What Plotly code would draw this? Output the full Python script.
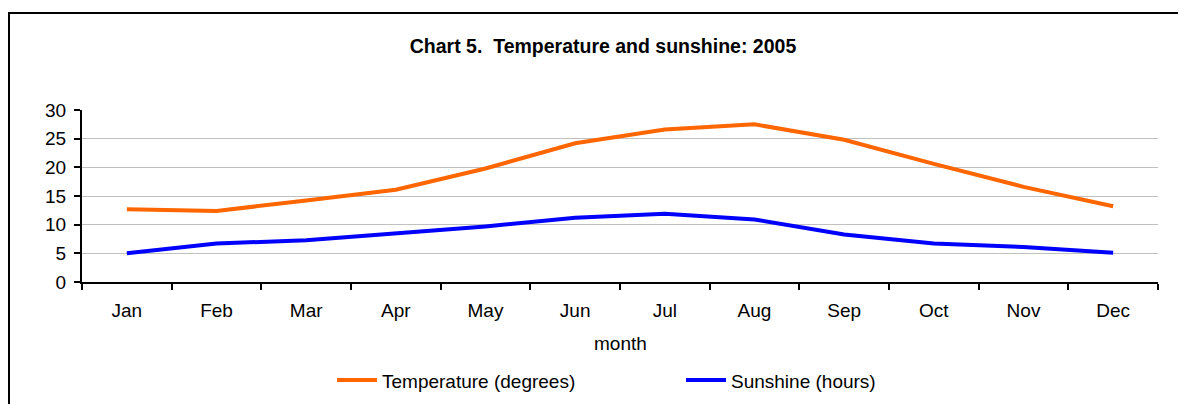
import plotly.graph_objects as go

months = ["Jan", "Feb", "Mar", "Apr", "May", "Jun", "Jul", "Aug", "Sep", "Oct", "Nov", "Dec"]
temperature = [12.7, 12.4, 14.2, 16.1, 19.8, 24.2, 26.6, 27.5, 24.8, 20.6, 16.6, 13.2]
sunshine = [5.0, 6.7, 7.3, 8.5, 9.7, 11.2, 11.9, 10.9, 8.3, 6.7, 6.1, 5.1]
y_ticks = [0, 5, 10, 15, 20, 25, 30]

# The page places the figure 8px in from the top-left corner (default body margin),
# so the layout below is expressed in page pixels minus that offset.
OFF = 8
W, H = 1186, 404
PL, PR, PT, PB = 82, 1158, 109.5, 282.3   # plot area in page pixels
L = PL - OFF
T = PT - OFF
pw = PR - PL
ph = PB - PT
R = W - L - pw
B = H - T - ph

def px_x(x):  # page px -> paper x
    return (x - PL) / pw

def px_y(y):  # page px -> paper y
    return (PB - y) / ph

FONT = "Liberation Sans, Arial, sans-serif"
FS = 19

fig = go.Figure()
fig.add_trace(go.Scatter(x=months, y=temperature, mode="lines", name="Temperature (degrees)",
                         line=dict(color="#FF6600", width=4)))
fig.add_trace(go.Scatter(x=months, y=sunshine, mode="lines", name="Sunshine (hours)",
                         line=dict(color="#0000FF", width=4)))

fig.update_layout(
    width=W, height=H,
    margin=dict(l=L, r=R, t=T, b=B, pad=0),
    paper_bgcolor="white", plot_bgcolor="white",
    font=dict(family=FONT, size=FS, color="black"),
    title=dict(text="<b>Chart 5.  Temperature and sunshine: 2005</b>",
               font=dict(family=FONT, size=19.5, color="black"),
               xref="container", yref="container",
               x=(603 - OFF) / W, xanchor="center", y=1 - (46 - OFF) / H, yanchor="middle"),
    xaxis=dict(type="category", range=[-0.5, 11.5], tickson="boundaries",
               ticks="outside", ticklen=6, tickwidth=2, tickcolor="black",
               showline=True, linecolor="black", linewidth=2,
               showgrid=False, zeroline=False, ticklabelstandoff=10,
               tickfont=dict(family=FONT, size=FS, color="black")),
    yaxis=dict(range=[0, 30], tickvals=y_ticks, ticks="outside", ticklen=6,
               tickwidth=2, tickcolor="black",
               showline=True, linecolor="black", linewidth=2,
               showgrid=True, gridcolor="#C0C0C0", gridwidth=1,
               zeroline=False, ticklabelstandoff=4,
               tickfont=dict(family=FONT, size=FS, color="black")),
    showlegend=True,
    legend=dict(orientation="h", x=px_x(332), xanchor="left",
                y=px_y(381), yanchor="middle",
                entrywidth=294, entrywidthmode="pixels",
                font=dict(family=FONT, size=FS, color="black"),
                bgcolor="rgba(0,0,0,0)", itemwidth=40),
    annotations=[dict(text="month", xref="paper", yref="paper", x=0.5, y=px_y(344),
                      xanchor="center", yanchor="middle", showarrow=False,
                      font=dict(family=FONT, size=FS, color="black"))],
    shapes=[dict(type="path", xref="paper", yref="paper",
                 path=f"M {px_x(9)} {px_y(440)} L {px_x(9)} {px_y(12)} L {px_x(1220)} {px_y(12)}",
                 line=dict(color="black", width=2))],
)

fig.write_html("out.html")
